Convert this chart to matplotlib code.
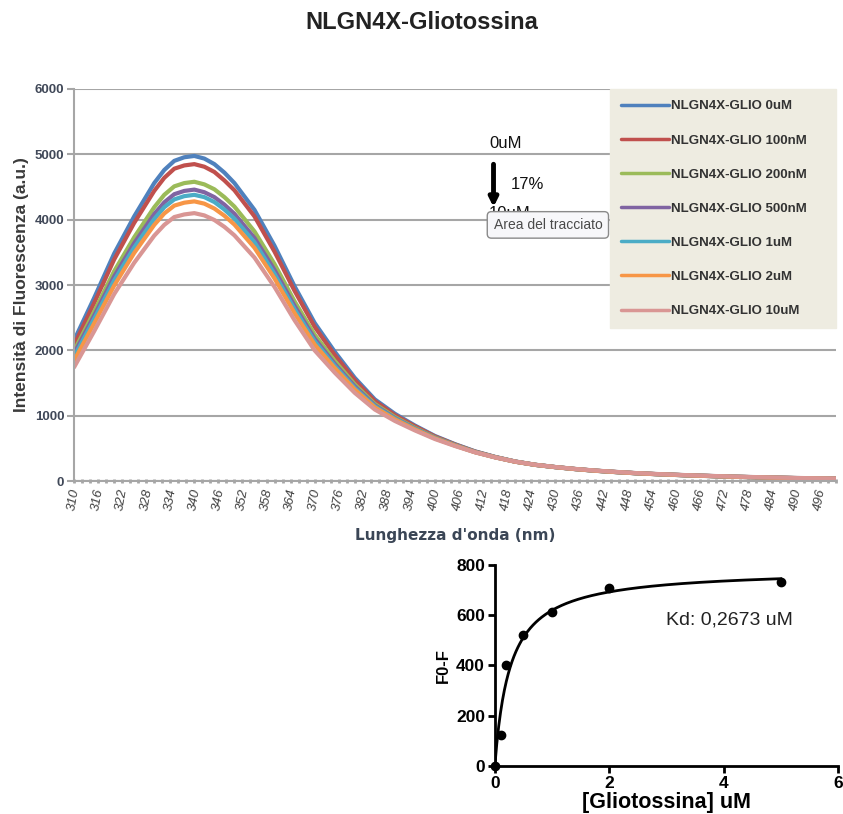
import numpy as np
import matplotlib.pyplot as plt
from matplotlib.ticker import MultipleLocator

plt.rcParams["font.family"] = ["Liberation Sans", "DejaVu Sans"]

# emission spectra (5 nm steps, 2.5 nm round the peak)
wavelength = [310, 315, 320, 325, 330, 332.5, 335, 337.5, 340, 342.5, 345, 347.5, 350,
              355, 360, 365, 370, 375, 380, 385, 390, 395, 400, 405, 410, 415, 420,
              425, 430, 435, 440, 445, 450, 455, 460, 465, 470, 475, 480, 485, 490,
              495, 500]

glio_0uM = [2150, 2800, 3480, 4050, 4560, 4760, 4900, 4955, 4975, 4935, 4850, 4720, 4560,
            4150, 3600, 2980, 2420, 1980, 1580, 1250, 1030, 850, 690, 565, 455, 370, 300,
            250, 215, 185, 160, 140, 122, 108, 96, 85, 76, 67, 60, 53, 47, 42, 38]
glio_100nM = [2080, 2720, 3390, 3950, 4440, 4640, 4780, 4830, 4850, 4810, 4730, 4600, 4450,
              4050, 3510, 2910, 2360, 1930, 1545, 1225, 1010, 838, 682, 560, 452, 368, 299,
              249, 214, 184, 159, 139, 121, 107, 95, 84, 75, 66, 59, 52, 46, 41, 37]
glio_200nM = [1990, 2590, 3210, 3730, 4190, 4380, 4510, 4560, 4580, 4540, 4465, 4345, 4200,
              3820, 3320, 2750, 2240, 1840, 1480, 1180, 980, 815, 668, 552, 447, 366, 298,
              249, 214, 184, 159, 139, 121, 107, 95, 84, 75, 66, 59, 52, 46, 41, 37]
glio_500nM = [1950, 2530, 3130, 3640, 4085, 4265, 4390, 4440, 4460, 4420, 4345, 4230, 4090,
              3720, 3230, 2680, 2180, 1795, 1450, 1160, 965, 805, 662, 548, 445, 365, 297,
              248, 213, 183, 158, 138, 120, 106, 94, 83, 74, 65, 58, 51, 45, 40, 36]
glio_1uM = [1900, 2480, 3070, 3575, 4010, 4190, 4310, 4360, 4380, 4345, 4270, 4155, 4015,
            3655, 3170, 2630, 2140, 1765, 1425, 1145, 955, 798, 658, 545, 443, 364, 297,
            248, 213, 183, 158, 138, 120, 106, 94, 83, 74, 65, 58, 51, 45, 40, 36]
glio_2uM = [1840, 2410, 2990, 3490, 3920, 4095, 4215, 4260, 4280, 4245, 4170, 4060, 3925,
            3570, 3100, 2570, 2090, 1730, 1400, 1128, 943, 790, 653, 542, 441, 363, 296,
            248, 213, 183, 158, 138, 120, 106, 94, 83, 74, 65, 58, 51, 45, 40, 36]
glio_10uM = [1740, 2290, 2860, 3340, 3755, 3920, 4040, 4080, 4100, 4065, 3995, 3890, 3760,
             3420, 2970, 2460, 2000, 1660, 1350, 1095, 920, 775, 643, 536, 440, 363, 298,
             250, 215, 186, 161, 141, 123, 109, 97, 86, 77, 68, 61, 54, 48, 43, 39]

series_labels = ["NLGN4X-GLIO 0uM", "NLGN4X-GLIO 100nM", "NLGN4X-GLIO 200nM",
                 "NLGN4X-GLIO 500nM", "NLGN4X-GLIO 1uM", "NLGN4X-GLIO 2uM",
                 "NLGN4X-GLIO 10uM"]
series_colors = ["#4F81BD", "#C0504D", "#9BBB59", "#8064A2", "#4BACC6", "#F79646", "#D99694"]
spectra = [glio_0uM, glio_100nM, glio_200nM, glio_500nM, glio_1uM, glio_2uM, glio_10uM]

# binding data (F0-F vs concentration)
conc = [0, 0.1, 0.2, 0.5, 1, 2, 5]
f0_minus_f = [0, 125, 402, 520, 612, 708, 732]
kd = 0.2673
bmax = 785

fig = plt.figure(figsize=(8.43, 8.14), dpi=100)
fig.text(0.5, 0.972, "NLGN4X-Gliotossina", ha="center", va="center",
         fontsize=17, fontweight="bold", color="#222222")

# --- spectra ---
ax = fig.add_axes([0.0878, 0.409, 0.9039, 0.4817])
for vals, lab, col in zip(spectra, series_labels, series_colors):
    ax.plot(wavelength, vals, color=col, lw=3, label=lab, solid_capstyle="round")

ax.set_xlim(310, 500)
ax.set_ylim(0, 6000)
ax.set_yticks(range(0, 6001, 1000))
ax.set_xticks(range(310, 497, 6))
ax.xaxis.set_minor_locator(MultipleLocator(2))
ax.grid(axis="y", color="#a6a6a6", lw=1.5)
ax.set_axisbelow(True)
for s in ["top", "right"]:
    ax.spines[s].set_visible(False)
ax.spines["left"].set_color("#a6a6a6")
ax.spines["left"].set_linewidth(1.5)
ax.spines["bottom"].set_color("#a6a6a6")
ax.spines["bottom"].set_linewidth(1.5)
ax.tick_params(axis="y", length=5, color="#a6a6a6", width=1.5, labelsize=9.5,
               labelcolor="#404858", pad=2)
ax.tick_params(axis="x", which="major", length=3, color="#a6a6a6", width=2,
               direction="inout", labelsize=9.5, labelcolor="#404040", labelrotation=80, pad=3)
ax.tick_params(axis="x", which="minor", length=3, color="#a6a6a6", width=2, direction="inout")
for t in ax.get_yticklabels():
    t.set_fontweight("bold")
for t in ax.get_xticklabels():
    t.set_fontstyle("italic")
ax.set_ylabel("Intensità di Fluorescenza (a.u.)", fontsize=12.5, fontweight="bold",
              color="#3a3a3a", labelpad=4)
ax.set_xlabel("Lunghezza d'onda (nm)", fontsize=11, fontweight="bold",
              color="#3b4656", labelpad=12, family=["DejaVu Sans"])

leg = ax.legend(loc="upper left", bbox_to_anchor=(0.7034, 0.0, 0.2966, 1.0), mode="expand",
                borderaxespad=0, frameon=True, fancybox=False, facecolor="#eeece1",
                edgecolor="#eeece1", framealpha=1, prop={"size": 9.5, "weight": "bold"},
                labelcolor="#333333", handlelength=3.6, handletextpad=0.15,
                labelspacing=1.66, borderpad=0.85)
for ln in leg.get_lines():
    ln.set_linewidth(2.5)

# annotations on the spectra
ax.text(413.5, 5170, "0uM", fontsize=12, ha="left", va="center", color="#111111")
ax.annotate("", xy=(414.6, 4150), xytext=(414.6, 4890),
            arrowprops=dict(arrowstyle="-|>,head_width=0.25,head_length=0.5",
                            color="black", lw=3.5))
ax.text(418.8, 4540, "17%", fontsize=12, ha="left", va="center", color="#111111")
ax.text(413.5, 4100, "10uM", fontsize=12, ha="left", va="center", color="#111111")
ax.text(414.6, 3920, "Area del tracciato", fontsize=10, ha="left", va="center",
        color="#4a4a4a", zorder=10,
        bbox=dict(boxstyle="round,pad=0.45,rounding_size=0.3", fc="#f7f7fa",
                  ec="#8a8a8a", lw=1))

# --- binding curve ---
bx = fig.add_axes([0.587, 0.059, 0.407, 0.247])
xfit = np.linspace(0, 5, 300)
bx.plot(xfit, bmax * xfit / (kd + xfit), color="black", lw=2)
bx.plot(conc, f0_minus_f, "o", color="black", ms=6, clip_on=False, zorder=5)
bx.set_xlim(0, 6)
bx.set_ylim(0, 800)
bx.set_xticks([0, 2, 4, 6])
bx.set_yticks(range(0, 801, 200))
for s in ["top", "right"]:
    bx.spines[s].set_visible(False)
for s in ["left", "bottom"]:
    bx.spines[s].set_linewidth(2)
bx.tick_params(length=5, width=2, labelsize=12.5, pad=2)
for t in bx.get_xticklabels() + bx.get_yticklabels():
    t.set_fontweight("bold")
bx.set_xlabel("[Gliotossina] uM", fontsize=15.5, fontweight="bold", labelpad=1)
bx.set_ylabel("F0-F", fontsize=12, fontweight="bold", labelpad=4)
bx.text(4.11, 581, "Kd: 0,2673 uM", fontsize=14, ha="center", va="center", color="#222222")

fig.savefig("out.png", dpi=100)
